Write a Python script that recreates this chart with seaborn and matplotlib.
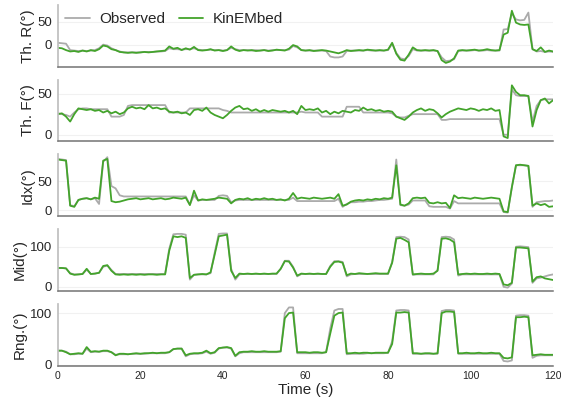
import numpy as np
import pandas as pd
import matplotlib
matplotlib.use("Agg")
import matplotlib.pyplot as plt
import seaborn as sns

# time base (s)
time = np.arange(0, 121)

th_r_obs = [4, 3, 2, -12, -13, -14, -13, -14, -13, -12,
            -8, 0, -2, -8, -12, -15, -17, -17, -17, -17,
            -17, -16, -16, -16, -15, -15, -14, -8, -10, -10,
            -11, -10, -10, -8, -11, -12, -12, -11, -12, -12,
            -13, -12, -7, -10, -12, -12, -12, -13, -12, -13,
            -12, -13, -12, -12, -12, -12, -11, -3, -6, -12,
            -13, -13, -13, -13, -13, -14, -26, -28, -28, -26,
            -14, -13, -13, -13, -13, -12, -13, -13, -13, -13,
            -12, 2, -18, -30, -32, -25, -10, -13, -13, -13,
            -13, -13, -14, -28, -36, -35, -32, -14, -13, -13,
            -13, -12, -13, -13, -12, -13, -13, -13, 33, 34,
            68, 55, 53, 54, 70, -10, -15, -14, -16, -15,
            -16]
th_r_kin = [-7, -8, -12, -15, -14, -16, -13, -15, -12, -14,
            -10, -2, -4, -10, -12, -16, -17, -18, -17, -18,
            -17, -16, -17, -16, -15, -14, -13, -4, -9, -7,
            -12, -8, -11, -5, -12, -13, -12, -10, -13, -12,
            -14, -12, -4, -11, -14, -12, -13, -12, -14, -13,
            -12, -14, -13, -11, -12, -13, -9, -1, -4, -12,
            -13, -12, -14, -13, -12, -13, -15, -17, -19, -16,
            -12, -14, -13, -12, -13, -11, -12, -13, -12, -13,
            -11, 4, -20, -33, -35, -22, -6, -12, -13, -12,
            -13, -12, -14, -34, -40, -37, -30, -13, -12, -13,
            -12, -11, -13, -12, -10, -12, -13, -12, 22, 26,
            74, 48, 44, 43, 44, -10, -14, -6, -16, -13,
            -15]

th_f_obs = [26, 25, 24, 22, 27, 31, 32, 32, 31, 31,
            31, 31, 31, 22, 22, 22, 24, 35, 36, 36,
            36, 36, 36, 36, 36, 36, 36, 27, 27, 27,
            27, 27, 32, 32, 32, 32, 32, 32, 32, 32,
            30, 29, 27, 27, 27, 27, 27, 27, 27, 27,
            27, 27, 27, 27, 27, 27, 27, 27, 27, 28,
            27, 27, 27, 27, 22, 22, 22, 22, 22, 22,
            34, 34, 34, 34, 27, 27, 27, 27, 27, 27,
            27, 26, 22, 21, 21, 23, 25, 25, 25, 25,
            25, 25, 25, 18, 18, 19, 19, 19, 19, 19,
            19, 19, 19, 19, 19, 19, 19, 19, 0, 0,
            55, 48, 47, 47, 47, 16, 35, 42, 43, 43,
            43]
th_f_kin = [25, 26, 22, 16, 25, 32, 31, 30, 31, 29,
            30, 27, 29, 26, 28, 25, 27, 32, 34, 32,
            33, 31, 36, 32, 33, 31, 32, 28, 27, 28,
            26, 27, 24, 30, 31, 29, 33, 27, 24, 22,
            20, 24, 29, 33, 35, 31, 32, 29, 31, 28,
            30, 28, 30, 29, 28, 29, 27, 29, 25, 35,
            30, 31, 30, 32, 27, 29, 25, 28, 26, 29,
            28, 27, 30, 29, 33, 30, 31, 29, 30, 28,
            29, 28, 22, 20, 18, 22, 27, 30, 32, 29,
            31, 30, 26, 21, 25, 28, 30, 32, 31, 30,
            32, 31, 29, 31, 30, 32, 29, 30, -2, -4,
            60, 52, 48, 48, 47, 10, 30, 42, 44, 38,
            42]

idx_obs = [89, 88, 87, 9, 7, 18, 20, 21, 19, 21,
           11, 84, 92, 42, 38, 26, 24, 24, 24, 24,
           24, 24, 24, 24, 24, 24, 24, 24, 24, 24,
           24, 24, 10, 26, 17, 18, 18, 18, 18, 25,
           26, 25, 14, 17, 18, 18, 18, 18, 18, 18,
           18, 18, 18, 18, 18, 18, 18, 22, 16, 16,
           16, 16, 16, 16, 16, 16, 16, 16, 20, 6,
           11, 14, 14, 15, 15, 16, 16, 17, 18, 18,
           19, 20, 88, 9, 8, 10, 17, 17, 17, 17,
           7, 6, 6, 6, 6, 3, 16, 12, 12, 12,
           12, 12, 12, 12, 12, 12, 12, 12, -3, -4,
           40, 78, 78, 78, 77, 6, 14, 15, 16, 16,
           17]
idx_kin = [88, 87, 86, 8, 6, 18, 20, 21, 19, 22,
           20, 86, 89, 16, 14, 15, 17, 19, 20, 21,
           19, 20, 21, 19, 20, 21, 19, 20, 22, 21,
           20, 22, 9, 34, 17, 19, 18, 19, 20, 22,
           21, 20, 12, 18, 20, 19, 21, 18, 20, 19,
           21, 19, 20, 18, 19, 17, 20, 30, 20, 22,
           21, 20, 22, 21, 20, 21, 22, 20, 28, 8,
           10, 15, 17, 18, 17, 19, 18, 20, 19, 21,
           20, 22, 78, 10, 8, 12, 21, 22, 21, 22,
           13, 12, 14, 12, 13, 4, 26, 21, 22, 21,
           20, 22, 21, 20, 21, 22, 21, 20, -2, -3,
           40, 78, 79, 78, 77, 8, 12, 9, 11, 6,
           7]

mid_obs = [47, 47, 46, 34, 31, 31, 32, 43, 32, 33,
           35, 50, 53, 42, 32, 32, 32, 32, 32, 32,
           32, 32, 32, 32, 32, 32, 32, 95, 131, 132,
           132, 130, 18, 30, 31, 31, 31, 34, 85, 132,
           133, 133, 45, 18, 31, 32, 32, 32, 32, 32,
           32, 32, 32, 32, 45, 65, 65, 50, 26, 32,
           32, 32, 32, 32, 32, 32, 52, 64, 64, 62,
           26, 31, 32, 32, 32, 32, 32, 32, 32, 32,
           32, 62, 124, 125, 124, 118, 30, 31, 31, 31,
           31, 31, 42, 124, 125, 124, 118, 28, 31, 31,
           31, 31, 31, 31, 31, 31, 31, 31, 0, -2,
           8, 100, 101, 100, 99, 10, 21, 23, 26, 29,
           31]
mid_kin = [47, 47, 46, 33, 30, 31, 32, 45, 32, 33,
           35, 52, 54, 40, 31, 30, 31, 30, 31, 30,
           31, 30, 31, 31, 30, 31, 31, 90, 126, 124,
           126, 122, 22, 30, 31, 32, 31, 36, 80, 126,
           128, 130, 40, 22, 33, 32, 33, 32, 33, 32,
           33, 32, 33, 33, 45, 64, 63, 48, 28, 33,
           32, 33, 32, 33, 32, 32, 50, 62, 63, 60,
           29, 33, 32, 34, 33, 32, 33, 34, 33, 33,
           33, 60, 120, 122, 117, 111, 31, 32, 33, 32,
           32, 33, 40, 120, 121, 118, 111, 31, 32, 33,
           32, 33, 32, 32, 33, 32, 33, 32, 6, 4,
           10, 98, 98, 97, 96, 13, 24, 26, 21, 19,
           17]

rng_obs = [27, 27, 25, 20, 20, 21, 21, 31, 24, 25,
           25, 26, 26, 24, 19, 20, 20, 20, 21, 21,
           21, 21, 22, 22, 22, 22, 22, 24, 30, 31,
           31, 16, 20, 21, 21, 22, 25, 21, 23, 31,
           33, 33, 31, 16, 22, 24, 24, 24, 24, 24,
           24, 24, 24, 24, 25, 100, 111, 111, 22, 22,
           22, 22, 22, 22, 22, 24, 70, 105, 108, 108,
           20, 21, 21, 21, 21, 22, 22, 22, 22, 22,
           23, 45, 105, 106, 106, 105, 21, 21, 21, 21,
           21, 21, 21, 104, 106, 106, 105, 21, 21, 21,
           21, 21, 21, 21, 21, 21, 21, 21, 7, 6,
           8, 95, 96, 96, 95, 13, 17, 18, 18, 18,
           18]
rng_kin = [27, 27, 24, 20, 21, 22, 21, 34, 25, 26,
           25, 27, 27, 24, 18, 21, 21, 20, 21, 22,
           21, 22, 22, 23, 22, 23, 23, 24, 30, 31,
           31, 18, 21, 22, 22, 23, 27, 22, 24, 32,
           33, 34, 32, 17, 24, 25, 25, 26, 25, 25,
           26, 25, 25, 25, 26, 90, 100, 101, 24, 24,
           24, 23, 24, 24, 23, 24, 60, 95, 100, 101,
           22, 22, 23, 22, 23, 23, 22, 23, 23, 23,
           23, 40, 101, 101, 102, 101, 22, 22, 21, 22,
           22, 21, 22, 100, 103, 103, 102, 22, 22, 23,
           22, 22, 23, 22, 22, 23, 22, 22, 13, 12,
           14, 92, 92, 93, 92, 18, 19, 20, 19, 19,
           19]

panels = [
    ("Th. R(°)", th_r_obs, th_r_kin, (-48, 87), [0, 50]),
    ("Th. F(°)", th_f_obs, th_f_kin, (-8, 67), [0, 50]),
    ("Idx(°)", idx_obs, idx_kin, (-10, 97), [0, 50]),
    ("Mid(°)", mid_obs, mid_kin, (-10, 144), [0, 100]),
    ("Rng.(°)", rng_obs, rng_kin, (-2, 118), [0, 100]),
]

colors = {"Observed": "#ababab", "KinEMbed": "#43a42b"}

sns.set_theme(style="whitegrid")
plt.rcParams["font.family"] = ["Liberation Sans", "DejaVu Sans"]

fig, axes = plt.subplots(5, 1, figsize=(5.61, 4.0), dpi=100, sharex=True)
fig.subplots_adjust(left=0.103, right=0.986, top=0.988, bottom=0.086, hspace=0.21)

for i, (label, obs, kin, ylim, yticks) in enumerate(panels):
    ax = axes[i]
    df = pd.concat([
        pd.DataFrame({"time": time, "angle": obs, "source": "Observed"}),
        pd.DataFrame({"time": time, "angle": kin, "source": "KinEMbed"}),
    ])
    sns.lineplot(data=df, x="time", y="angle", hue="source",
                 hue_order=["Observed", "KinEMbed"], palette=colors,
                 estimator=None, linewidth=1.3, ax=ax, legend=(i == 0))
    ax.set_ylim(*ylim)
    ax.set_yticks(yticks)
    ax.set_xlim(0, 120)
    ax.set_ylabel(label, fontsize=11, labelpad=2)
    ax.set_xlabel("")
    ax.grid(axis="x", visible=False)
    ax.grid(axis="y", color="#f1f1f1", linewidth=0.8)
    for s in ["top", "right"]:
        ax.spines[s].set_visible(False)
    ax.spines["left"].set_color("0.75")
    ax.spines["bottom"].set_color("0.45")
    ax.spines["bottom"].set_linewidth(1.1)
    ax.tick_params(axis="y", labelsize=9.5, pad=4, length=0)
    ax.tick_params(axis="x", labelsize=7.5, pad=4, length=0)

axes[0].legend(loc="upper left", ncol=2, frameon=False, fontsize=11,
               handlelength=1.6, columnspacing=0.9, borderaxespad=0.1,
               handletextpad=0.6)

axes[-1].set_xticks([0, 20, 40, 60, 80, 100, 120])
axes[-1].set_xlabel("Time (s)", fontsize=11, labelpad=1)

fig.savefig("out.png", dpi=100)
